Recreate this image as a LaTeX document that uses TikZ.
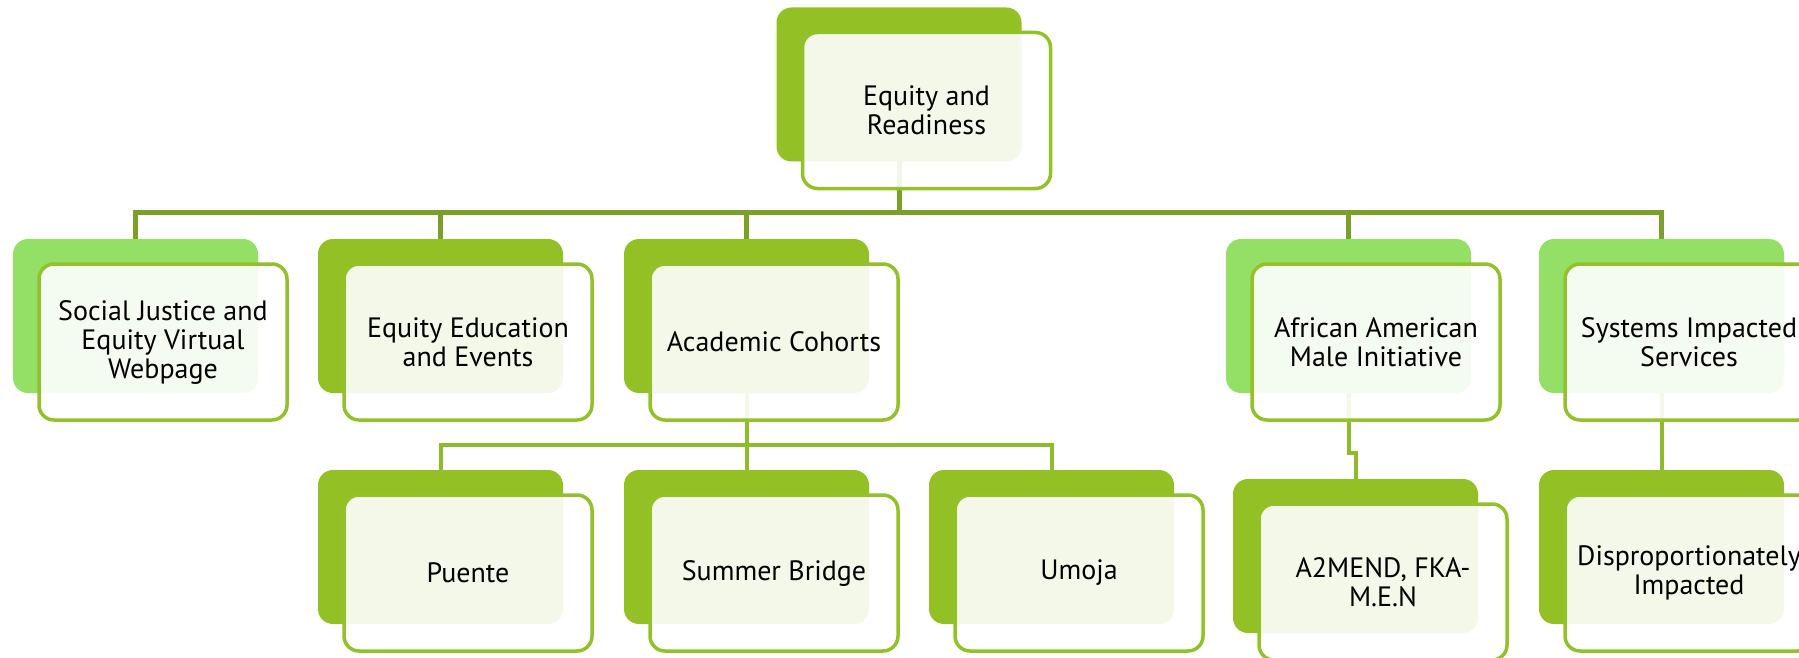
\documentclass[tikz,border=0pt]{standalone}
\usepackage{fontspec}
\setmainfont{PT Sans}
\usetikzlibrary{backgrounds}
\definecolor{leafgreen}{HTML}{93C125}
\definecolor{softgreen}{HTML}{94DF66}
\definecolor{rimgreen}{HTML}{93C12A}
\definecolor{linkolive}{HTML}{7AA02A}
\definecolor{linkgreen}{HTML}{8CBC2A}
\tikzset{
    back/.style={rectangle, rounded corners=7.5pt, draw=none,
        minimum width=122.5pt, minimum height=77pt, inner sep=0pt},
    front/.style={rectangle, rounded corners=7.5pt, draw=rimgreen, line width=1.75pt,
        fill=white, fill opacity=0.9, text opacity=1, text=black,
        minimum width=124pt, minimum height=78pt, align=center, inner sep=0pt,
        font=\fontsize{14}{14.5}\selectfont},
    toplink/.style={draw=linkolive, line width=2.5pt},
    sublink/.style={draw=linkgreen, line width=2pt}
}
% back card, then the framed card on top of it
\def\Card#1#2#3#4{
    \node[back, fill=#3] (#1-b) at (#2) {};
    \node[front] (#1) at ([shift={(27.5,26)}]#1-b.center) {#4};
}

\begin{document}
\begin{tikzpicture}[x=0.5pt, y=-0.5pt]
    \useasboundingbox (0,0) rectangle (1799,658);

    \Card{top}{899,84.5}{leafgreen}{Equity and\\Readiness}

    \Card{social}{135.5,316}{softgreen}{Social Justice and\\Equity Virtual\\Webpage}
    \Card{eqed}{440.5,316}{leafgreen}{Equity Education\\and Events}
    \Card{acad}{746.5,316}{leafgreen}{Academic Cohorts}
    \Card{aami}{1348.5,316}{softgreen}{African American\\Male Initiative}
    \Card{systems}{1661.5,316}{softgreen}{Systems Impacted\\Services}

    \Card{puente}{440.5,547}{leafgreen}{Puente}
    \Card{summer}{746.5,547}{leafgreen}{Summer Bridge}
    \Card{umoja}{1051.5,547}{leafgreen}{Umoja}
    \Card{a2mend}{1355.5,556}{leafgreen}{A2MEND, FKA-\\M.E.N}
    \Card{disprop}{1661.5,547}{leafgreen}{Disproportionately\\Impacted}

    \coordinate (bar1) at (0,212);
    \coordinate (bar2) at (0,445);
    \coordinate (bar3) at (0,453);

    \begin{scope}[on background layer]
        \foreach \c in {social,eqed,acad,aami,systems}
            \draw[toplink] (top-b.center) -- (top-b.center |- bar1) -| (\c-b.center);
        \foreach \c in {puente,summer,umoja}
            \draw[sublink] (acad-b.center) -- (acad-b.center |- bar2) -| (\c-b.center);
        \draw[sublink] (aami-b.center) -- (aami-b.center |- bar3) -| (a2mend-b.center);
        \draw[sublink] (systems-b.center) -- (disprop-b.center);
    \end{scope}
\end{tikzpicture}
\end{document}
